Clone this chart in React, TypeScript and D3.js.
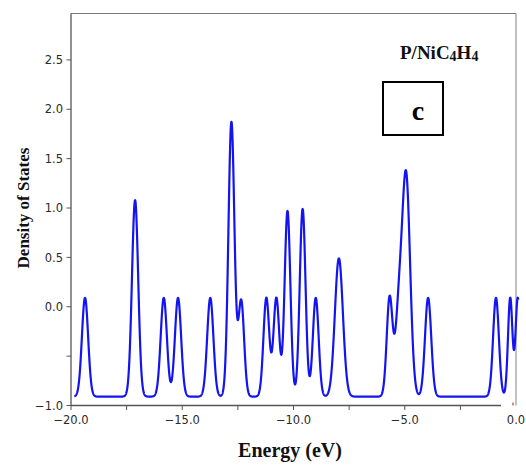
import React from "react";
import * as d3 from "d3";

// Density-of-states peaks (energy in eV, height above baseline, broadening in eV)
const peakEnergies = [-19.37, -17.12, -15.83, -15.19, -13.74, -12.79, -12.35, -11.22, -10.77, -10.27, -9.59, -9.0, -7.96, -5.68, -5.28, -4.94, -3.95, -0.9, -0.26, 0.08];
const peakHeights = [1.0, 1.99, 1.0, 1.0, 1.0, 2.78, 0.97, 1.0, 1.0, 1.88, 1.9, 1.0, 1.4, 1.0, 0.75, 2.23, 1.0, 1.0, 1.0, 1.0];
const peakWidths = [0.14, 0.14, 0.14, 0.14, 0.14, 0.135, 0.13, 0.13, 0.13, 0.13, 0.13, 0.13, 0.18, 0.13, 0.15, 0.18, 0.14, 0.13, 0.1, 0.1];
const baselineValue = -0.91;
const energyStart = -19.85;
const energyEnd = 0.1;

const xTicks = [-20, -17.5, -15, -12.5, -10, -7.5, -5, -2.5, 0];
const xTickLabels = ["\u221220.0", "", "\u221215.0", "", "\u221210.0", "", "\u22125.0", "", "0.0"];
const yTicks = [-1, -0.5, 0, 0.5, 1, 1.5, 2, 2.5];
const yTickLabels = ["\u22121.0", "", "0.0", "0.5", "1.0", "1.5", "2.0", "2.5"];

const W = 526;
const H = 465;
const left = 71;
const right = 516;
const top = 13.5;
const bottom = 405.5;

function dosAt(e: number): number {
  let v = baselineValue;
  for (let i = 0; i < peakEnergies.length; i++) {
    const d = e - peakEnergies[i];
    const s = peakWidths[i];
    v += peakHeights[i] * Math.exp(-(d * d) / (2 * s * s));
  }
  return v;
}

export default function App() {
  const x = d3.scaleLinear().domain([-20, 0]).range([left, right]);
  const y = d3.scaleLinear().domain([-1, 2.97]).range([bottom, top]);

  const grid = d3.range(energyStart, energyEnd + 1e-9, 0.005);
  const pts: [number, number][] = grid.map((e) => [e, dosAt(e)]);
  const line = d3
    .line<[number, number]>()
    .x((d) => x(d[0]))
    .y((d) => y(d[1]));

  const tickFont = "'DejaVu Sans', sans-serif";
  const serif = "'Liberation Serif', 'Times New Roman', serif";

  return (
    <svg
      width={W}
      height={H}
      style={{ position: "absolute", left: 0, top: 0, background: "#fff" }}
    >
      <rect x={0} y={0} width={W} height={H} fill="#fff" />
      {/* frame */}
      <line x1={left} x2={right} y1={top} y2={top} stroke="#777" strokeWidth={1.2} />
      <line x1={right} x2={right} y1={top} y2={bottom} stroke="#999" strokeWidth={1.2} />
      <line x1={left} x2={left} y1={top} y2={bottom + 0.5} stroke="#555" strokeWidth={1.3} />
      <line x1={left} x2={501} y1={bottom} y2={bottom} stroke="#555" strokeWidth={1.3} />
      <line x1={513} x2={513} y1={bottom - 3} y2={bottom} stroke="#d33" strokeWidth={1.2} />

      {/* y ticks */}
      {yTicks.map((t, i) => (
        <g key={"y" + i}>
          <line x1={left - 4.5} x2={left} y1={y(t)} y2={y(t)} stroke="#555" strokeWidth={1} />
          {yTickLabels[i] && (
            <text
              x={left - 8}
              y={y(t)}
              dy="0.36em"
              textAnchor="end"
              fontFamily={tickFont}
              fontSize={11.5}
              fill="#2a2a2a"
            >
              {yTickLabels[i]}
            </text>
          )}
        </g>
      ))}

      {/* x ticks */}
      {xTicks.map((t, i) => (
        <g key={"x" + i}>
          {t !== 0 && (
            <line x1={x(t)} x2={x(t)} y1={bottom} y2={bottom + 4.5} stroke="#555" strokeWidth={1} />
          )}
          {xTickLabels[i] && (
            <text
              x={x(t)}
              y={423.5}
              textAnchor="middle"
              fontFamily={tickFont}
              fontSize={11.5}
              fill="#2a2a2a"
            >
              {xTickLabels[i]}
            </text>
          )}
        </g>
      ))}

      {/* DOS curve */}
      <path d={line(pts) || ""} fill="none" stroke="#1414f0" strokeWidth={2.2} strokeLinejoin="round" />

      {/* title */}
      <text x={400} y={59} fontFamily={serif} fontWeight="bold" fontSize={19} fill="#111">
        P/NiC<tspan fontSize={14} dy={2}>4</tspan>
        <tspan dy={-2}>H</tspan>
        <tspan fontSize={14} dy={2}>4</tspan>
      </text>

      {/* panel label box */}
      <rect x={383} y={82} width={60} height={53} fill="#fff" stroke="#000" strokeWidth={2} />
      <text x={418} y={119.5} textAnchor="middle" fontFamily={serif} fontWeight="bold" fontSize={28} fill="#000">
        c
      </text>

      {/* axis titles */}
      <text x={290} y={457} textAnchor="middle" fontFamily={serif} fontWeight="bold" fontSize={20} fill="#111">
        Energy (eV)
      </text>
      <text
        transform={`translate(29,208) rotate(-90)`}
        textAnchor="middle"
        fontFamily={serif}
        fontWeight="bold"
        fontSize={17}
        fill="#111"
      >
        Density of States
      </text>
    </svg>
  );
}
